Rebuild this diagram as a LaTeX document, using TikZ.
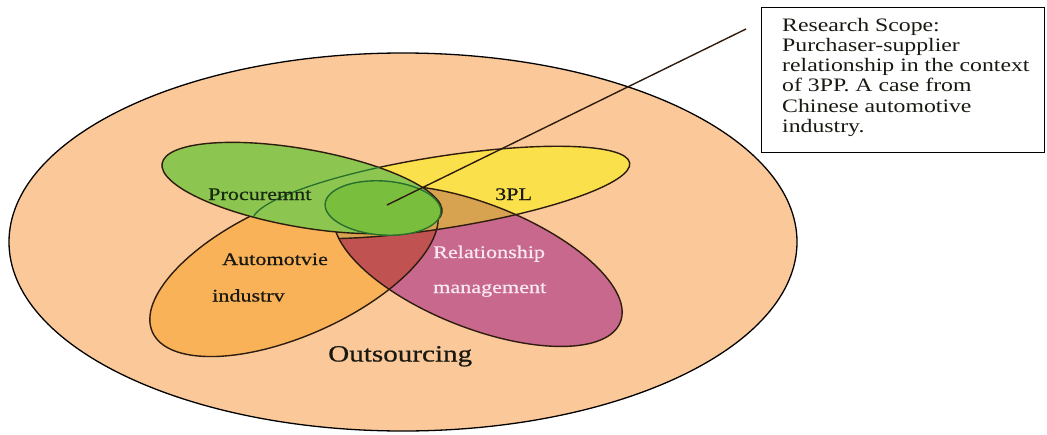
\documentclass[tikz,border=0pt]{standalone}
\usepackage{fontspec}
\setmainfont[FakeStretch=1.25]{Liberation Serif}
\newfontfamily\lblfont[FakeStretch=1.25, FakeBold=0.7]{Liberation Serif}
\definecolor{outerc}{RGB}{251,201,153}
\definecolor{orangec}{RGB}{249,178,88}
\definecolor{magc}{RGB}{200,104,140}
\definecolor{redc}{RGB}{192,82,82}
\definecolor{yelc}{RGB}{250,224,74}
\definecolor{tanc}{RGB}{216,163,80}
\definecolor{greenc}{RGB}{140,198,80}
\definecolor{coregreen}{RGB}{122,190,62}
\definecolor{coreline}{RGB}{40,110,45}
\definecolor{outlc}{RGB}{45,28,15}
\definecolor{labc}{RGB}{25,25,18}
\definecolor{proctext}{RGB}{24,42,16}
\definecolor{pinktext}{RGB}{248,232,240}
\tikzset{
  outl/.style={draw=outlc, line width=1.4pt},
  lbl/.style={font=\lblfont\fontsize{17.7}{20}\selectfont, inner sep=0pt, text=labc},
  trY/.style={rotate around={8.9:(441,192.5)}},
  trO/.style={rotate around={24:(294,269)}},
  trM/.style={rotate around={-21.5:(478,266)}},
  trG/.style={rotate around={-10:(302,188)}},
  trC/.style={rotate around={-4:(383,208)}}
}
\begin{document}
\begin{tikzpicture}[x=1pt,y=-1pt]
\useasboundingbox (0,0) rectangle (1047,434);
% outsourcing
\fill[outerc] (403,242) ellipse (394pt and 189pt);
\draw[black, line width=1.3pt] (403,242) ellipse (394pt and 189pt);
% yellow 3PL
\fill[yelc, trY] (441,192.5) ellipse (191pt and 36pt);
\draw[outl, trY] (441,192.5) ellipse (191pt and 36pt);
% orange automotive
\fill[orangec, trO] (294,269) ellipse (155pt and 66.5pt);
% magenta relationship
\fill[magc, trM] (478,266) ellipse (153pt and 62pt);
\begin{scope}
  \clip[trO] (294,269) ellipse (155pt and 66.5pt);
  \fill[redc, trM] (478,266) ellipse (153pt and 62pt);
\end{scope}
\begin{scope}
  \clip[trM] (478,266) ellipse (153pt and 62pt);
  \fill[tanc, trY] (441,192.5) ellipse (191pt and 36pt);
  \draw[outl, trY] (441,192.5) ellipse (191pt and 36pt);
\end{scope}
\draw[outl, trO] (294,269) ellipse (155pt and 66.5pt);
\draw[outl, trM] (478,266) ellipse (153pt and 62pt);
% green procurement
\fill[greenc, trG] (302,188) ellipse (142pt and 39pt);
\draw[outl, trG] (302,188) ellipse (142pt and 39pt);
\begin{scope}
  \clip[trG] (302,188) ellipse (142pt and 39pt);
  \draw[draw=coreline, line width=1.3pt, trY] (441,192.5) ellipse (191pt and 36pt);
\end{scope}
% research scope core
\fill[coregreen, trC] (383,208) ellipse (58pt and 27pt);
\draw[draw=coreline, line width=1.4pt, trC] (383,208) ellipse (58pt and 27pt);
\coordinate (core) at (387,205);
\coordinate (ptrend) at (746,29);
\draw[outl] (core) -- (ptrend);
% labels
\node[lbl, anchor=base west, text=proctext] (proc) at (208,200) {Procuremnt};
\node[lbl, anchor=base west] (tpl) at (495,200) {3PL};
\node[lbl, anchor=base west] (auto1) at (222,265) {Automotvie};
\node[lbl, anchor=base west] (auto2) at (212,301.5) {industrv};
\node[lbl, anchor=base west, text=pinktext] (rel1) at (433,258) {Relationship};
\node[lbl, anchor=base west, text=pinktext] (rel2) at (433,293) {management};
\node[lbl, anchor=base west, font=\lblfont\fontsize{23.3}{26}\selectfont] (outs) at (328,361.5) {Outsourcing};
% research scope box
\node[draw=black, line width=1.2pt, anchor=north west, minimum width=283pt, minimum height=145pt, inner sep=0pt] (box) at (761,7) {};
\node[anchor=north west, inner sep=0pt, align=left, text=labc, font=\fontsize{19}{20.2}\selectfont] (scope) at (782,18) {Research Scope:\\Purchaser-supplier\\relationship in the context\\of 3PP. A case from\\Chinese automotive\\industry.};
\end{tikzpicture}
\end{document}
